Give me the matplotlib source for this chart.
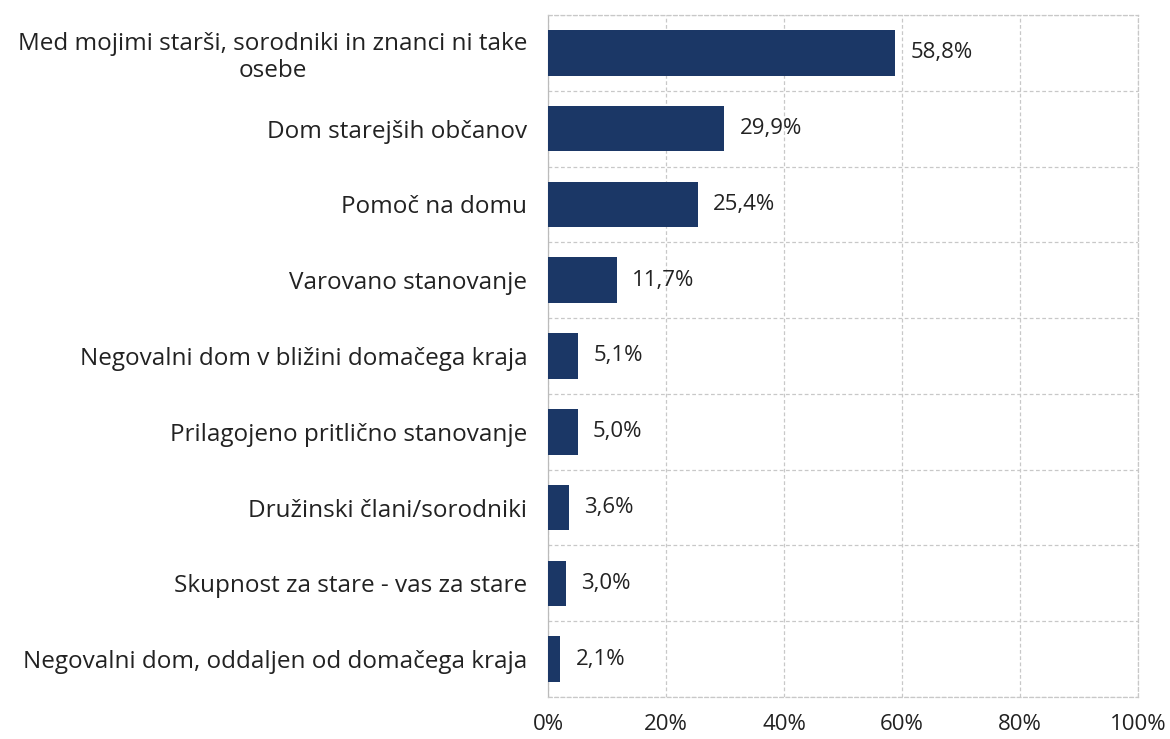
import matplotlib
matplotlib.use("Agg")
import matplotlib.pyplot as plt
import numpy as np

categories = [
    "Med mojimi starši, sorodniki in znanci ni take\nosebe",
    "Dom starejših občanov",
    "Pomoč na domu",
    "Varovano stanovanje",
    "Negovalni dom v bližini domačega kraja",
    "Prilagojeno pritlično stanovanje",
    "Družinski člani/sorodniki",
    "Skupnost za stare - vas za stare",
    "Negovalni dom, oddaljen od domačega kraja",
]
values = [58.8, 29.9, 25.4, 11.7, 5.1, 5.0, 3.6, 3.0, 2.1]
xticks = [0, 20, 40, 60, 80, 100]
xticklabels = ["0%", "20%", "40%", "60%", "80%", "100%"]

plt.rcParams["font.family"] = ["Open Sans", "DejaVu Sans"]

fig = plt.figure(figsize=(11.7, 7.39), dpi=100)
ax = fig.add_axes([548 / 1170, 1 - 697 / 739, (1138 - 548) / 1170, (697 - 15) / 739])

bar_color = "#1b3766"
text_color = "#222222"
grid_color = "#c8c8c8"

y = np.arange(len(categories))
ax.barh(y, values, height=0.6, color=bar_color, zorder=3)

for yi, v in zip(y, values):
    ax.annotate(f"{v:.1f}".replace(".", ",") + "%", xy=(v, yi), xytext=(11, 0),
                textcoords="offset points", va="center", ha="left",
                fontsize=16, color=text_color, zorder=4)

ax.set_xlim(0, 100)
ax.set_ylim(len(categories) - 0.5, -0.5)
ax.set_xticks(xticks)
ax.set_xticklabels(xticklabels, fontsize=16, color=text_color)
ax.set_yticks(y)
ax.set_yticklabels(categories, fontsize=17.5, color=text_color, multialignment="center",
                   linespacing=1.15)
ax.set_yticks(np.arange(-0.5, len(categories), 1), minor=True)
ax.tick_params(axis="both", which="both", length=0)
ax.tick_params(axis="x", pad=12)
ax.tick_params(axis="y", pad=15)

ax.grid(axis="x", which="major", color=grid_color, linestyle=(0, (3, 2)), linewidth=0.9, zorder=0)
ax.grid(axis="y", which="minor", color=grid_color, linestyle=(0, (3, 2)), linewidth=0.9, zorder=0)
ax.grid(axis="y", which="major", visible=False)

for name, sp in ax.spines.items():
    sp.set_color(grid_color)
    sp.set_linestyle((0, (3, 2)))
    sp.set_linewidth(0.9)
ax.spines["left"].set_linestyle("-")
ax.spines["left"].set_color("#bbbbbb")

fig.savefig("out.png", dpi=100)
